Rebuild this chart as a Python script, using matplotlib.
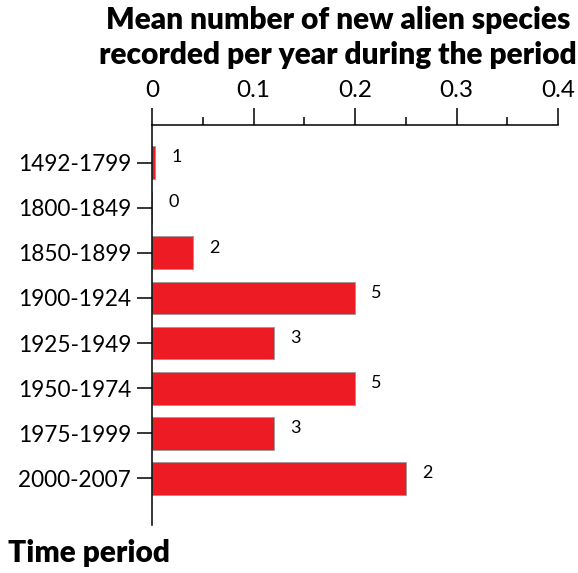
import matplotlib
matplotlib.use("Agg")
import numpy as np
from matplotlib import pyplot as plt
from matplotlib.ticker import MultipleLocator

periods = ["1492-1799", "1800-1849", "1850-1899", "1900-1924",
           "1925-1949", "1950-1974", "1975-1999", "2000-2007"]
rates = [0.0032, 0.0, 0.04, 0.2, 0.12, 0.2, 0.12, 0.25]
counts = [1, 0, 2, 5, 3, 5, 3, 2]
xticks = [0, 0.1, 0.2, 0.3, 0.4]
xticklabels = ["0", "0.1", "0.2", "0.3", "0.4"]

plt.rcParams['font.family'] = ['Lato', 'DejaVu Sans']

fig = plt.figure(figsize=(5.78, 5.73), dpi=100)
ax = fig.add_axes([152/578, 1 - 525/573, (558 - 152)/578, 400/573])

y = np.arange(len(periods))
ax.barh(y, rates, height=0.73, color="#ED1C24", edgecolor="#999999", linewidth=0.6)
for yi, r, c in zip(y, rates, counts):
    ax.text(r + 0.016, yi - 0.12, str(c), fontsize=13, ha="left", va="center")

ax.set_xlim(0, 0.4)
ax.set_ylim(len(periods) - 1 + 1.04, -0.84)
ax.set_yticks(y)
ax.set_yticklabels(periods, fontsize=16.3)
ax.set_xticks(xticks)
ax.set_xticklabels(xticklabels, fontsize=17.5)
ax.xaxis.set_minor_locator(MultipleLocator(0.05))
ax.xaxis.tick_top()
ax.tick_params(axis="x", which="major", length=12, width=1.1, pad=5)
ax.tick_params(axis="x", which="minor", length=6, width=1.1)
ax.tick_params(axis="y", length=11, width=1.1, pad=4)
ax.spines["right"].set_visible(False)
ax.spines["bottom"].set_visible(False)
for s in ["top", "left"]:
    ax.spines[s].set_linewidth(1.1)

fig.text(338/578, 1 - 20/573, "Mean number of new alien species", fontsize=21.5,
         fontweight="heavy", ha="center", va="center")
fig.text(338/578, 1 - 55/573, "recorded per year during the period", fontsize=21.5,
         fontweight="heavy", ha="center", va="center")
fig.text(8/578, 1 - 553/573, "Time period", fontsize=21.5, fontweight="heavy",
         ha="left", va="center")

fig.savefig("out.png", dpi=100)
